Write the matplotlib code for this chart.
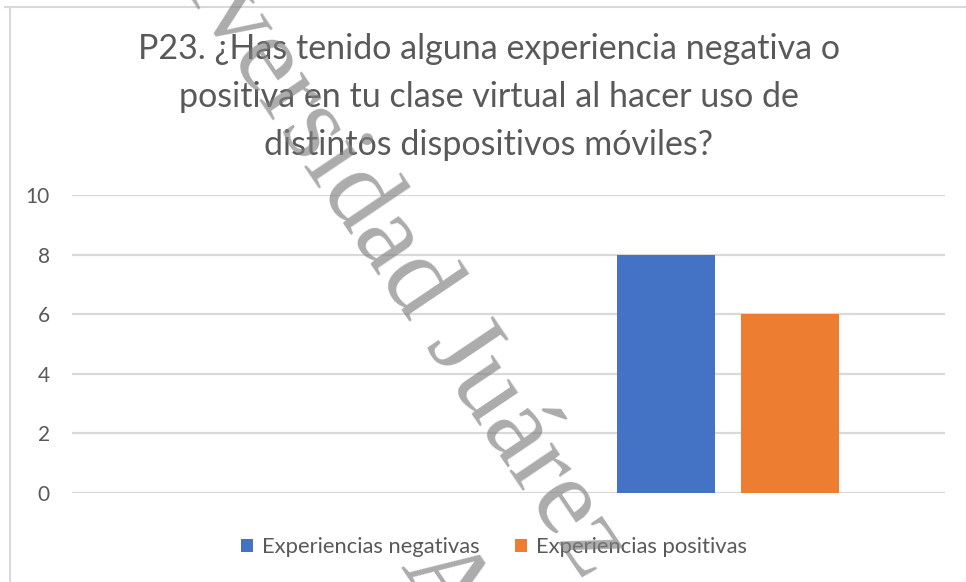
import matplotlib
matplotlib.use('Agg')
import matplotlib.pyplot as plt
from matplotlib.lines import Line2D
from matplotlib.patches import Patch
import numpy as np

# ==================== 数据 ====================
categories = ['', '']
negativas = [np.nan, 8]
positivas = [np.nan, 6]
series_names = ['Experiencias negativas', 'Experiencias positivas']
colors = ['#4472C4', '#ED7D31']
yticks = [0, 2, 4, 6, 8, 10]

title = ('P23. ¿Has tenido alguna experiencia negativa o\n'
         'positiva en tu clase virtual al hacer uso de\n'
         'distintos dispositivos móviles?')
wm_before = 'Universidad '
wm_line1 = 'Universidad Juárez'
wm_line2 = 'Autónoma de Tabasco'

TXT = '#595959'
GRID = '#d9d9d9'
plt.rcParams['font.family'] = ['Lato', 'DejaVu Sans']

W, H = 966, 582
fig = plt.figure(figsize=(W / 100, H / 100), dpi=100)
ax = fig.add_axes([72 / W, 1 - 493 / H, (945 - 72) / W, (493 - 195) / H])

x = np.arange(len(categories))
bw = 0.225
ax.bar(x - 0.14, negativas, bw, color=colors[0], zorder=3)
ax.bar(x + 0.145, positivas, bw, color=colors[1], zorder=3)

ax.set_xlim(-0.5, 1.5)
ax.set_ylim(0, 10)
ax.set_yticks(yticks)
ax.set_xticks([])
ax.tick_params(axis='y', length=0, pad=16, labelsize=15, labelcolor=TXT)
ax.grid(axis='y', color=GRID, linewidth=1.6, zorder=0)
for s in ax.spines.values():
    s.set_visible(False)

# 标题
fig.text(489 / W, 1 - 97 / H, title, ha='center', va='center',
         fontsize=24.5, color=TXT, linespacing=1.6)

# 图例
handles = [Patch(facecolor=c, edgecolor='none') for c in colors]
fig.legend(handles, series_names, loc='center', bbox_to_anchor=(494 / W, 1 - 547 / H),
           ncol=2, frameon=False, fontsize=15.8, labelcolor=TXT,
           handlelength=0.55, handleheight=0.55, handletextpad=0.42, columnspacing=1.6)

# 图表边框（只露出左边和上边）
fig.add_artist(Line2D([10 / W, 10 / W], [0, 1 - 7 / H], color=GRID, lw=1.5))
fig.add_artist(Line2D([5 / W, 1], [1 - 7 / H, 1 - 7 / H], color=GRID, lw=1.5))

# 水印：让 "J" 落在 (425, 345) 附近，第二行的 "A" 只露出一角
ANG = 56
WM_SIZE = 80
WM_FONT = ['Liberation Serif', 'DejaVu Serif']
wm_kw = dict(fontsize=WM_SIZE, family=WM_FONT,
             rotation=-ANG, rotation_mode='anchor', ha='left', va='baseline',
             color='#7f7f7f', alpha=0.65, zorder=10)
r = fig.canvas.get_renderer()
tmp = fig.text(0, 0, wm_before.replace(' ', '\u00a0'), fontsize=WM_SIZE, family=WM_FONT)
pre_w = tmp.get_window_extent(r).width
tmp.remove()
t = np.deg2rad(ANG)
jx, jy = 425, 345
sx, sy = jx - pre_w * np.cos(t), jy - pre_w * np.sin(t)
fig.text(sx / W, 1 - sy / H, wm_line1, **wm_kw)
fig.text(400 / W, 1 - 566 / H, wm_line2, **wm_kw)

fig.savefig('out.png', dpi=100)
